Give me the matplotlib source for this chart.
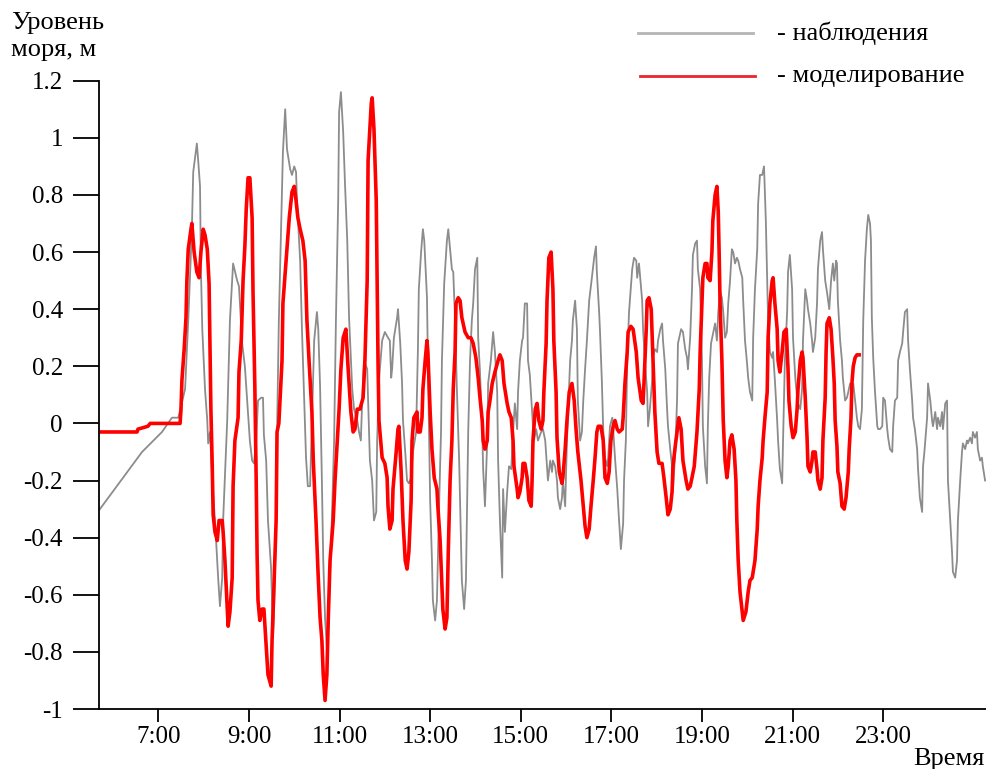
import matplotlib
matplotlib.use("Agg")
import matplotlib.pyplot as plt
from matplotlib.lines import Line2D

plt.rcParams['font.family'] = ['Liberation Serif', 'DejaVu Serif']

# observed sea level (time in hours, level in m)
obs_time = [
    5.71, 6.22, 6.64, 7.08, 7.30, 7.44, 7.59, 7.66, 7.74, 7.77,
    7.85, 7.88, 7.92, 7.94, 7.97, 8.03, 8.08, 8.10, 8.14, 8.19,
    8.25, 8.32, 8.36, 8.41, 8.43, 8.52, 8.58, 8.65, 8.74, 8.78,
    8.85, 8.91, 9.02, 9.07, 9.11, 9.16, 9.20, 9.27, 9.31, 9.33,
    9.38, 9.42, 9.49, 9.53, 9.55, 9.60, 9.62, 9.66, 9.71, 9.75,
    9.80, 9.84, 9.91, 9.95, 10.00, 10.04, 10.06, 10.13, 10.17, 10.22,
    10.26, 10.30, 10.35, 10.39, 10.44, 10.50, 10.53, 10.57, 10.61, 10.64,
    10.68, 10.72, 10.77, 10.83, 10.88, 10.92, 10.97, 10.99, 11.03, 11.08,
    11.12, 11.17, 11.21, 11.28, 11.32, 11.39, 11.43, 11.47, 11.50, 11.54,
    11.61, 11.67, 11.72, 11.76, 11.81, 11.83, 11.87, 11.94, 12.00, 12.07,
    12.11, 12.14, 12.16, 12.20, 12.27, 12.29, 12.34, 12.38, 12.40, 12.45,
    12.49, 12.53, 12.58, 12.62, 12.69, 12.73, 12.75, 12.80, 12.84, 12.87,
    12.93, 12.95, 13.00, 13.04, 13.06, 13.11, 13.15, 13.17, 13.20, 13.24,
    13.26, 13.31, 13.37, 13.40, 13.44, 13.48, 13.51, 13.55, 13.59, 13.64,
    13.68, 13.70, 13.75, 13.79, 13.81, 13.84, 13.88, 13.92, 13.95, 13.99,
    14.04, 14.06, 14.10, 14.15, 14.17, 14.21, 14.26, 14.28, 14.34, 14.39,
    14.43, 14.48, 14.50, 14.54, 14.59, 14.61, 14.65, 14.70, 14.74, 14.79,
    14.83, 14.87, 14.92, 14.94, 14.98, 15.03, 15.05, 15.09, 15.14, 15.16,
    15.20, 15.25, 15.29, 15.34, 15.38, 15.45, 15.49, 15.54, 15.58, 15.60,
    15.65, 15.69, 15.71, 15.76, 15.80, 15.82, 15.87, 15.91, 15.93, 15.98,
    16.02, 16.04, 16.09, 16.13, 16.15, 16.20, 16.24, 16.26, 16.31, 16.35,
    16.38, 16.42, 16.46, 16.51, 16.57, 16.62, 16.66, 16.68, 16.73, 16.75,
    16.79, 16.82, 16.86, 16.91, 16.93, 16.97, 17.02, 17.04, 17.08, 17.13,
    17.17, 17.21, 17.26, 17.28, 17.32, 17.35, 17.39, 17.46, 17.50, 17.55,
    17.57, 17.61, 17.68, 17.70, 17.74, 17.79, 17.81, 17.85, 17.90, 17.92,
    17.96, 18.01, 18.03, 18.08, 18.12, 18.14, 18.19, 18.23, 18.25, 18.30,
    18.34, 18.36, 18.41, 18.45, 18.47, 18.54, 18.58, 18.63, 18.67, 18.69,
    18.74, 18.78, 18.80, 18.85, 18.89, 18.91, 18.96, 19.00, 19.02, 19.07,
    19.11, 19.13, 19.16, 19.20, 19.25, 19.29, 19.33, 19.36, 19.40, 19.44,
    19.47, 19.51, 19.55, 19.58, 19.62, 19.66, 19.69, 19.73, 19.77, 19.80,
    19.84, 19.89, 19.91, 19.95, 19.99, 20.02, 20.06, 20.11, 20.13, 20.17,
    20.22, 20.24, 20.28, 20.33, 20.37, 20.41, 20.44, 20.46, 20.50, 20.55,
    20.57, 20.61, 20.66, 20.68, 20.72, 20.77, 20.79, 20.83, 20.88, 20.90,
    20.94, 20.99, 21.01, 21.06, 21.10, 21.12, 21.17, 21.21, 21.23, 21.28,
    21.32, 21.34, 21.39, 21.43, 21.45, 21.50, 21.54, 21.56, 21.61, 21.65,
    21.67, 21.72, 21.76, 21.81, 21.85, 21.89, 21.92, 21.96, 21.98, 22.00,
    22.05, 22.09, 22.11, 22.16, 22.20, 22.23, 22.27, 22.31, 22.34, 22.38,
    22.42, 22.45, 22.49, 22.53, 22.56, 22.60, 22.64, 22.67, 22.71, 22.73,
    22.75, 22.78, 22.82, 22.87, 22.89, 22.93, 22.98, 23.00, 23.04, 23.09,
    23.11, 23.15, 23.20, 23.22, 23.26, 23.31, 23.33, 23.37, 23.42, 23.44,
    23.48, 23.53, 23.55, 23.59, 23.64, 23.66, 23.70, 23.75, 23.77, 23.81,
    23.86, 23.88, 23.91, 23.97, 23.99, 24.04, 24.08, 24.10, 24.15, 24.19,
    24.21, 24.26, 24.30, 24.32, 24.37, 24.41, 24.43, 24.48, 24.52, 24.54,
    24.59, 24.63, 24.65, 24.70, 24.74, 24.76, 24.81, 24.85, 24.87, 24.92,
    24.96, 24.98, 25.03, 25.07, 25.09, 25.14, 25.18, 25.20, 25.25,
]
obs_level = [
    -0.30, -0.19, -0.10, -0.03, 0.02, 0.02, 0.12, 0.36, 0.68, 0.88,
    0.98, 0.92, 0.83, 0.54, 0.33, 0.12, 0.01, -0.07, -0.03, -0.20,
    -0.34, -0.54, -0.64, -0.54, -0.34, 0.01, 0.36, 0.56, 0.50, 0.48,
    0.28, 0.20, -0.06, -0.13, -0.14, -0.06, 0.08, 0.09, 0.09, -0.04,
    -0.13, -0.34, -0.51, -0.75, -0.68, -0.34, -0.03, 0.36, 0.68, 0.95,
    1.10, 0.96, 0.89, 0.87, 0.90, 0.88, 0.78, 0.57, 0.33, 0.08,
    -0.12, -0.22, -0.22, 0.01, 0.29, 0.39, 0.33, 0.13, -0.20, -0.48,
    -0.68, -0.79, -0.62, -0.34, -0.06, 0.36, 0.78, 1.09, 1.16, 1.02,
    0.84, 0.64, 0.37, 0.12, 0.05, 0.01, -0.03, -0.06, 0.08, 0.22,
    0.19, -0.13, -0.20, -0.34, -0.31, -0.06, 0.15, 0.29, 0.32, 0.30,
    0.29, 0.16, 0.19, 0.30, 0.37, 0.40, 0.28, 0.14, 0.01, -0.10,
    -0.20, -0.21, -0.19, -0.10, -0.03, 0.26, 0.47, 0.60, 0.68, 0.64,
    0.44, 0.22, -0.27, -0.48, -0.62, -0.69, -0.62, -0.48, -0.27, -0.03,
    0.22, 0.49, 0.64, 0.68, 0.61, 0.54, 0.53, 0.36, 0.12, -0.13,
    -0.41, -0.55, -0.65, -0.55, -0.34, -0.03, 0.22, 0.36, 0.42, 0.54,
    0.58, 0.30, 0.18, -0.03, -0.16, -0.29, -0.06, 0.14, 0.22, 0.32,
    0.25, 0.11, -0.13, -0.34, -0.54, -0.23, -0.38, -0.24, -0.15, -0.16,
    -0.03, 0.07, -0.02, 0.11, 0.22, 0.29, 0.30, 0.42, 0.42, 0.22,
    0.17, 0.04, -0.06, -0.02, -0.06, -0.03, -0.02, -0.06, -0.15, -0.20,
    -0.13, -0.17, -0.13, -0.15, -0.20, -0.26, -0.30, -0.26, -0.20, -0.29,
    -0.06, 0.02, 0.22, 0.29, 0.36, 0.43, 0.33, 0.08, -0.06, -0.03,
    0.08, 0.19, 0.29, 0.43, 0.51, 0.58, 0.62, 0.53, 0.39, 0.32,
    0.15, -0.02, -0.12, -0.15, -0.12, -0.01, 0.02, -0.02, -0.12, -0.23,
    -0.34, -0.44, -0.35, -0.20, -0.06, 0.22, 0.39, 0.54, 0.58, 0.57,
    0.51, 0.56, 0.43, 0.33, 0.22, 0.11, -0.01, 0.05, 0.15, 0.23,
    0.26, 0.25, 0.29, 0.33, 0.35, 0.29, 0.19, 0.05, -0.01, -0.09,
    -0.15, -0.23, -0.10, 0.08, 0.28, 0.33, 0.32, 0.26, 0.23, 0.19,
    0.30, 0.47, 0.59, 0.63, 0.64, 0.54, 0.47, 0.22, -0.01, -0.15,
    -0.21, -0.01, 0.16, 0.28, 0.32, 0.35, 0.29, 0.39, 0.46, 0.44,
    0.39, 0.30, 0.32, 0.42, 0.50, 0.61, 0.60, 0.56, 0.58, 0.57,
    0.54, 0.51, 0.43, 0.29, 0.22, 0.16, 0.11, 0.08, 0.30, 0.47,
    0.61, 0.77, 0.87, 0.87, 0.90, 0.71, 0.50, 0.36, 0.25, 0.23,
    0.25, 0.15, 0.01, -0.06, -0.16, -0.21, -0.06, 0.22, 0.39, 0.53,
    0.59, 0.47, 0.30, 0.16, 0.09, 0.07, 0.05, 0.12, 0.29, 0.47,
    0.43, 0.40, 0.35, 0.29, 0.25, 0.30, 0.42, 0.54, 0.64, 0.67,
    0.61, 0.50, 0.46, 0.40, 0.50, 0.56, 0.50, 0.57, 0.56, 0.43,
    0.29, 0.22, 0.16, 0.08, 0.09, 0.11, 0.14, 0.11, 0.14, 0.08,
    0.02, -0.01, -0.02, 0.05, 0.36, 0.57, 0.68, 0.73, 0.70, 0.64,
    0.37, 0.23, 0.11, -0.01, -0.02, -0.02, -0.01, 0.09, 0.08, -0.02,
    -0.05, -0.09, -0.10, -0.01, 0.08, 0.09, 0.22, 0.25, 0.28, 0.32,
    0.39, 0.40, 0.29, 0.19, 0.08, 0.02, -0.02, -0.09, -0.16, -0.26,
    -0.31, -0.15, -0.10, 0.02, 0.14, 0.08, 0.01, -0.01, 0.04, -0.02,
    0.02, -0.01, 0.04, -0.02, 0.07, 0.08, -0.20, -0.34, -0.45, -0.52,
    -0.54, -0.48, -0.34, -0.20, -0.10, -0.07, -0.09, -0.06, -0.07, -0.05,
    -0.07, -0.03, -0.05, -0.03, -0.09, -0.13, -0.12, -0.15, -0.20,
]

# modelled sea level
model_time = [
    5.69, 6.53, 6.55, 6.77, 6.82, 7.48, 7.50, 7.52, 7.57, 7.61,
    7.63, 7.66, 7.72, 7.74, 7.79, 7.85, 7.90, 7.94, 7.99, 8.03,
    8.08, 8.12, 8.14, 8.16, 8.19, 8.21, 8.25, 8.30, 8.34, 8.41,
    8.43, 8.47, 8.52, 8.54, 8.58, 8.63, 8.65, 8.69, 8.76, 8.78,
    8.83, 8.87, 8.91, 8.94, 8.98, 9.02, 9.07, 9.09, 9.13, 9.16,
    9.18, 9.20, 9.24, 9.29, 9.33, 9.38, 9.42, 9.49, 9.51, 9.55,
    9.60, 9.62, 9.66, 9.73, 9.75, 9.84, 9.89, 9.95, 10.00, 10.04,
    10.08, 10.13, 10.19, 10.24, 10.28, 10.33, 10.39, 10.42, 10.48, 10.53,
    10.57, 10.61, 10.64, 10.68, 10.72, 10.75, 10.79, 10.86, 10.90, 10.94,
    10.99, 11.03, 11.08, 11.14, 11.19, 11.25, 11.30, 11.34, 11.39, 11.45,
    11.52, 11.56, 11.61, 11.63, 11.70, 11.72, 11.76, 11.81, 11.83, 11.85,
    11.87, 11.94, 12.00, 12.05, 12.07, 12.11, 12.16, 12.18, 12.25, 12.29,
    12.31, 12.36, 12.40, 12.45, 12.49, 12.53, 12.58, 12.60, 12.64, 12.71,
    12.73, 12.78, 12.82, 12.84, 12.89, 12.93, 12.95, 13.00, 13.04, 13.09,
    13.15, 13.17, 13.22, 13.26, 13.28, 13.33, 13.37, 13.40, 13.44, 13.48,
    13.51, 13.55, 13.57, 13.62, 13.66, 13.70, 13.77, 13.84, 13.90, 13.95,
    14.01, 14.06, 14.10, 14.15, 14.17, 14.21, 14.26, 14.28, 14.32, 14.37,
    14.43, 14.50, 14.54, 14.59, 14.63, 14.70, 14.74, 14.79, 14.83, 14.85,
    14.92, 14.94, 14.98, 15.03, 15.05, 15.09, 15.14, 15.18, 15.23, 15.25,
    15.27, 15.32, 15.36, 15.40, 15.45, 15.49, 15.51, 15.56, 15.58, 15.62,
    15.67, 15.71, 15.73, 15.78, 15.80, 15.85, 15.91, 15.93, 15.98, 16.02,
    16.07, 16.13, 16.18, 16.22, 16.26, 16.33, 16.38, 16.42, 16.46, 16.51,
    16.55, 16.60, 16.64, 16.68, 16.71, 16.77, 16.82, 16.86, 16.91, 16.95,
    16.99, 17.04, 17.08, 17.13, 17.17, 17.24, 17.26, 17.30, 17.35, 17.37,
    17.43, 17.48, 17.55, 17.59, 17.66, 17.70, 17.72, 17.77, 17.79, 17.83,
    17.88, 17.92, 17.96, 18.01, 18.05, 18.12, 18.16, 18.21, 18.25, 18.30,
    18.34, 18.36, 18.41, 18.45, 18.49, 18.54, 18.58, 18.65, 18.69, 18.74,
    18.78, 18.83, 18.89, 18.94, 18.96, 19.00, 19.02, 19.07, 19.11, 19.13,
    19.18, 19.22, 19.24, 19.29, 19.33, 19.36, 19.38, 19.40, 19.44, 19.47,
    19.51, 19.55, 19.58, 19.62, 19.66, 19.71, 19.75, 19.77, 19.80, 19.84,
    19.89, 19.91, 19.97, 20.02, 20.06, 20.11, 20.17, 20.22, 20.24, 20.28,
    20.33, 20.35, 20.39, 20.44, 20.46, 20.50, 20.55, 20.57, 20.61, 20.66,
    20.68, 20.72, 20.77, 20.81, 20.86, 20.90, 20.92, 20.97, 21.01, 21.06,
    21.10, 21.12, 21.17, 21.21, 21.23, 21.28, 21.32, 21.34, 21.39, 21.43,
    21.45, 21.50, 21.54, 21.56, 21.61, 21.65, 21.67, 21.72, 21.74, 21.76,
    21.81, 21.85, 21.89, 21.92, 21.94, 21.98, 22.00, 22.05, 22.09, 22.14,
    22.18, 22.23, 22.25, 22.29, 22.31, 22.34, 22.38, 22.42, 22.47,
]
model_level = [
    -0.03, -0.03, -0.02, -0.01, 0.00, 0.00, 0.05, 0.15, 0.26, 0.37,
    0.50, 0.61, 0.68, 0.70, 0.60, 0.53, 0.51, 0.60, 0.68, 0.66,
    0.61, 0.49, 0.28, 0.05, -0.15, -0.32, -0.38, -0.41, -0.34, -0.34,
    -0.38, -0.48, -0.65, -0.71, -0.66, -0.54, -0.22, -0.06, 0.02, 0.18,
    0.29, 0.50, 0.62, 0.75, 0.86, 0.86, 0.72, 0.46, 0.13, -0.20,
    -0.46, -0.62, -0.69, -0.65, -0.65, -0.78, -0.88, -0.92, -0.76, -0.58,
    -0.34, -0.03, 0.00, 0.22, 0.42, 0.61, 0.72, 0.81, 0.83, 0.78,
    0.72, 0.68, 0.64, 0.57, 0.36, 0.21, 0.04, -0.13, -0.34, -0.54,
    -0.68, -0.76, -0.88, -0.97, -0.88, -0.69, -0.48, -0.34, -0.20, -0.09,
    0.05, 0.19, 0.30, 0.33, 0.19, 0.04, -0.03, -0.02, 0.05, 0.05,
    0.09, 0.22, 0.50, 0.92, 1.12, 1.14, 1.03, 0.78, 0.50, 0.21,
    0.01, -0.12, -0.14, -0.19, -0.29, -0.37, -0.34, -0.23, -0.10, -0.02,
    -0.01, -0.17, -0.34, -0.48, -0.51, -0.45, -0.27, -0.06, 0.02, 0.04,
    -0.03, -0.03, 0.02, 0.12, 0.22, 0.29, 0.25, 0.04, -0.09, -0.19,
    -0.23, -0.29, -0.41, -0.57, -0.65, -0.72, -0.68, -0.45, -0.20, -0.06,
    0.12, 0.25, 0.42, 0.44, 0.43, 0.37, 0.32, 0.30, 0.30, 0.28,
    0.23, 0.16, 0.09, 0.01, -0.06, -0.09, -0.06, 0.04, 0.08, 0.14,
    0.18, 0.22, 0.24, 0.22, 0.14, 0.07, 0.04, 0.02, -0.06, -0.15,
    -0.23, -0.26, -0.24, -0.19, -0.14, -0.14, -0.19, -0.27, -0.29, -0.20,
    -0.06, 0.05, 0.07, 0.01, -0.02, 0.01, 0.11, 0.28, 0.43, 0.58,
    0.60, 0.47, 0.29, 0.11, -0.05, -0.17, -0.21, -0.19, -0.09, 0.01,
    0.11, 0.14, 0.08, -0.02, -0.10, -0.20, -0.29, -0.36, -0.40, -0.37,
    -0.29, -0.20, -0.12, -0.03, -0.01, -0.01, -0.06, -0.19, -0.21, -0.17,
    -0.06, -0.01, 0.01, -0.02, -0.03, -0.02, 0.02, 0.14, 0.25, 0.32,
    0.34, 0.33, 0.25, 0.16, 0.08, 0.07, 0.14, 0.33, 0.43, 0.44,
    0.40, 0.22, 0.04, -0.10, -0.14, -0.14, -0.19, -0.26, -0.32, -0.30,
    -0.24, -0.15, -0.08, -0.03, 0.02, -0.02, -0.13, -0.20, -0.23, -0.22,
    -0.19, -0.15, -0.03, 0.12, 0.25, 0.42, 0.51, 0.56, 0.56, 0.51,
    0.50, 0.60, 0.71, 0.80, 0.83, 0.74, 0.59, 0.42, 0.22, 0.01,
    -0.13, -0.19, -0.15, -0.06, -0.04, -0.09, -0.20, -0.34, -0.48, -0.59,
    -0.66, -0.69, -0.66, -0.59, -0.55, -0.54, -0.48, -0.37, -0.29, -0.20,
    -0.12, -0.06, 0.02, 0.11, 0.30, 0.42, 0.50, 0.51, 0.42, 0.33,
    0.22, 0.18, 0.25, 0.32, 0.33, 0.19, 0.08, -0.01, -0.05, -0.03,
    0.05, 0.12, 0.22, 0.25, 0.23, 0.09, -0.05, -0.15, -0.17, -0.13,
    -0.10, -0.10, -0.16, -0.20, -0.23, -0.19, -0.06, 0.09, 0.25, 0.35,
    0.37, 0.33, 0.23, 0.14, 0.01, -0.08, -0.17, -0.21, -0.29, -0.30,
    -0.26, -0.17, -0.09, 0.02, 0.14, 0.20, 0.23, 0.24, 0.24,
]

hour_ticks = [7, 9, 11, 13, 15, 17, 19, 21, 23]
hour_labels = ["7:00", "9:00", "11:00", "13:00", "15:00", "17:00", "19:00", "21:00", "23:00"]
level_ticks = [-1, -0.8, -0.6, -0.4, -0.2, 0, 0.2, 0.4, 0.6, 0.8, 1, 1.2]
level_labels = ["-1", "-0.8", "-0.6", "-0.4", "-0.2", "0", "0.2", "0.4", "0.6", "0.8", "1", "1.2"]

W, H = 986, 769
fig = plt.figure(figsize=(W / 100, H / 100), dpi=100)
ax = fig.add_axes([99 / W, 1 - 709 / H, (986 - 99) / W, (709 - 80.7) / H])

obs_color = '#8c8c8c'
model_color = '#ff0000'
ax.plot(obs_time, obs_level, color=obs_color, lw=1.3)
ax.plot(model_time, model_level, color=model_color, lw=2.6)

ax.set_xlim(5.69, 25.27)
ax.set_ylim(-1, 1.2)
ax.set_xticks(hour_ticks)
ax.set_xticklabels(hour_labels)
ax.set_yticks(level_ticks)
ax.set_yticklabels(level_labels)

for side in ('top', 'right'):
    ax.spines[side].set_visible(False)
for side in ('left', 'bottom'):
    ax.spines[side].set_linewidth(1.3)
ax.tick_params(axis='x', direction='out', length=9, width=1.3, pad=3, labelsize=18)
ax.tick_params(axis='y', direction='out', length=19, width=1.3, pad=7, labelsize=18)

fig.text(11 / W, 1 - 29 / H, "Уровень", fontsize=19, ha='left', va='baseline')
fig.text(11 / W, 1 - 56 / H, "моря, м", fontsize=19, ha='left', va='baseline')
fig.text(985 / W, 1 - 765 / H, "Время", fontsize=19, ha='right', va='baseline')

# legend drawn by hand
fig.add_artist(Line2D([638 / W, 753 / W], [1 - 33 / H, 1 - 33 / H],
                      transform=fig.transFigure, color='#b5b5b5', lw=2))
fig.add_artist(Line2D([640 / W, 755 / W], [1 - 76 / H, 1 - 76 / H],
                      transform=fig.transFigure, color='#e8262b', lw=2))
fig.text(777 / W, 1 - 33 / H, "- наблюдения", fontsize=19, ha='left', va='center')
fig.text(777 / W, 1 - 76 / H, "- моделирование", fontsize=19, ha='left', va='center')

fig.savefig("out.png", dpi=100)
